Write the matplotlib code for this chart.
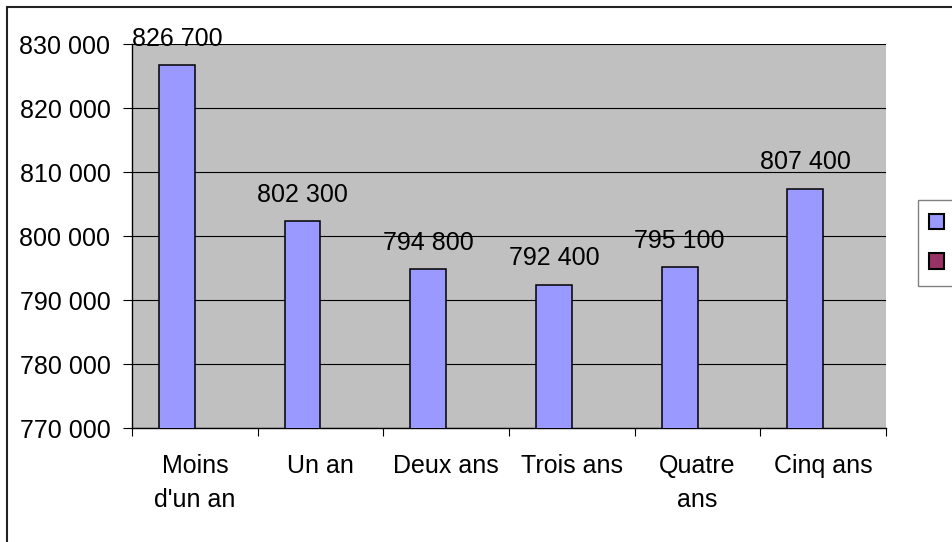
import numpy as np
import matplotlib
matplotlib.use("Agg")
import matplotlib.pyplot as plt
from matplotlib.patches import Patch, Rectangle
from matplotlib.ticker import FuncFormatter, MultipleLocator

categories = ["Moins\nd'un an", "Un an", "Deux ans", "Trois ans", "Quatre\nans", "Cinq ans"]
values = [826700, 802300, 794800, 792400, 795100, 807400]
value_labels = ["826 700", "802 300", "794 800", "792 400", "795 100", "807 400"]

BAR = "#9999FF"
BAR2 = "#993366"
PLOT_BG = "#C0C0C0"
FS = 18

plt.rcParams["font.family"] = ["Liberation Sans", "DejaVu Sans"]

W, H = 952, 542
fig = plt.figure(figsize=(W / 100, H / 100), dpi=100, facecolor="white")
ax = fig.add_axes([132 / W, 1 - 428 / H, (886 - 132) / W, (428 - 44) / H])
ax.set_facecolor(PLOT_BG)

# Excel clustered layout: 2 series, gap width 150%
x = np.arange(len(categories))
w = 1 / 3.5
ax.bar(x - w / 2, values, width=w, color=BAR, edgecolor="black", linewidth=1.1, zorder=3)

for xi, v, lab in zip(x, values, value_labels):
    ax.annotate(lab, (xi - w / 2, v), xytext=(0, 19), textcoords="offset points",
                ha="center", va="center", fontsize=FS, annotation_clip=False, zorder=4)

ax.set_xlim(-0.5, len(categories) - 0.5)
ax.set_ylim(770000, 830000)
ax.yaxis.set_major_locator(MultipleLocator(10000))
ax.yaxis.set_major_formatter(FuncFormatter(lambda v, p: f"{v:,.0f}".replace(",", " ")))
ax.grid(axis="y", color="black", linewidth=0.8, zorder=1)
ax.set_axisbelow(True)

ax.set_xticks(x)
ax.set_xticklabels(categories, fontsize=FS, linespacing=1.5)
ax.set_xticks(np.arange(-0.5, len(categories)), minor=True)
ax.tick_params(axis="x", which="major", length=0, pad=19)
ax.tick_params(axis="x", which="minor", length=6, width=0.8, color="black")
ax.tick_params(axis="y", length=6.5, width=0.8, pad=9, labelsize=FS)

for s in ["top", "right"]:
    ax.spines[s].set_visible(False)
for s in ["left", "bottom"]:
    ax.spines[s].set_color("black")
    ax.spines[s].set_linewidth(1.0)

# legend with unlabeled entries
handles = [Patch(facecolor=BAR, edgecolor="black", linewidth=1.5),
           Patch(facecolor=BAR2, edgecolor="black", linewidth=1.5)]
fig.legend(handles, ["      ", "      "], loc="upper left",
           bbox_to_anchor=(918 / W, 1 - 200 / H), fontsize=FS,
           frameon=True, fancybox=False, edgecolor="#808080", framealpha=1,
           handlelength=0.58, handleheight=0.58, labelspacing=0.62,
           borderpad=0.45, borderaxespad=0, handletextpad=0.3)

# chart border
fig.add_artist(Rectangle((7 / W, -0.1), 1.2, 1.1 - 7 / H, transform=fig.transFigure,
                         fill=False, edgecolor="#222222", linewidth=1.5, clip_on=False))

fig.savefig("out.png", dpi=100, facecolor="white")
